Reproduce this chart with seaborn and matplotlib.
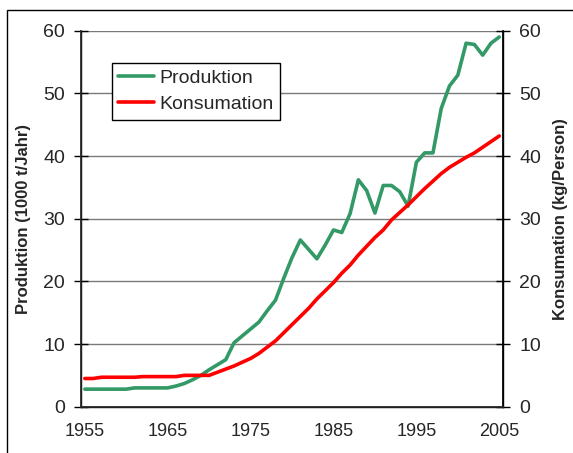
import numpy as np
import pandas as pd
import matplotlib
matplotlib.use("Agg")
import matplotlib.pyplot as plt
import seaborn as sns

# data
years = list(range(1955, 2006))
produktion = [2.8, 2.8, 2.8, 2.8, 2.8, 2.8, 3.0, 3.0, 3.0, 3.0,
              3.0, 3.3, 3.7, 4.3, 5.0, 5.9, 6.7, 7.5, 10.2, 11.3,
              12.4, 13.5, 15.3, 17.0, 20.5, 23.8, 26.6, 25.1, 23.6, 25.8,
              28.2, 27.8, 30.8, 36.2, 34.5, 30.9, 35.3, 35.3, 34.3, 32.0,
              39.0, 40.5, 40.5, 47.6, 51.2, 52.9, 58.0, 57.8, 56.1, 58.0,
              59.0]
konsumation = [4.5, 4.5, 4.7, 4.7, 4.7, 4.7, 4.7, 4.8, 4.8, 4.8,
               4.8, 4.8, 5.0, 5.0, 5.0, 5.0, 5.5, 6.0, 6.5, 7.1,
               7.7, 8.5, 9.5, 10.5, 11.8, 13.1, 14.4, 15.7, 17.2, 18.5,
               19.8, 21.3, 22.6, 24.2, 25.6, 27.0, 28.2, 29.8, 31.0, 32.2,
               33.5, 34.8, 36.0, 37.2, 38.2, 39.0, 39.8, 40.5, 41.4, 42.3,
               43.2]
year_labels = [1955, 1965, 1975, 1985, 1995, 2005]
y_ticks = [0, 10, 20, 30, 40, 50, 60]

df = pd.DataFrame({"Jahr": years, "Produktion": produktion, "Konsumation": konsumation})

sns.set_theme(style="white")
plt.rcParams["font.family"] = ["Liberation Sans", "DejaVu Sans"]

W, H = 573, 453
fig = plt.figure(figsize=(W / 100, H / 100), dpi=100)
ax = fig.add_axes([80.7 / W, 1 - 406.7 / H, 422.7 / W, 376 / H])

# outer frame (only left and top edges visible)
fig.patches.append(plt.Rectangle((7.3 / W, -0.1), 1.2, 1 - 10 / H + 0.1,
                                 transform=fig.transFigure, fill=False,
                                 edgecolor="black", linewidth=1.0))

for v in y_ticks[1:]:
    ax.axhline(v, color="#7a7a7a", linewidth=1.0, zorder=0)

sns.lineplot(data=df, x="Jahr", y="Produktion", ax=ax, color="#339966",
             linewidth=2.6, label="Produktion")
sns.lineplot(data=df, x="Jahr", y="Konsumation", ax=ax, color="#ff0000",
             linewidth=2.6, label="Konsumation")

ax.set_xlim(1954.5, 2005.5)
ax.set_ylim(0, 60)
ax.set_yticks(y_ticks)
ax.set_xticks(year_labels)
ax.set_xticks(np.arange(1954.5, 2006, 1.0), minor=True)
ax.tick_params(axis="x", which="major", length=0, pad=12, labelsize=13)
ax.tick_params(axis="x", which="minor", direction="inout", length=8.6, width=1, color="black")
ax.tick_params(axis="y", direction="inout", length=9.4, width=1, color="black",
               labelsize=14, left=True, pad=6.6)

for side in ["left", "right", "bottom"]:
    ax.spines[side].set_color("black")
    ax.spines[side].set_linewidth(1.0)
ax.spines["top"].set_visible(False)

ax.set_xlabel("")
ax.set_ylabel("Produktion (1000 t/Jahr)", fontsize=12, fontweight="bold", labelpad=9)

ax2 = ax.twinx()
ax2.set_ylim(0, 60)
ax2.set_yticks(y_ticks)
ax2.tick_params(axis="y", direction="inout", length=9.4, width=1, color="black",
                labelsize=14, right=True, pad=6.6)
ax2.spines["top"].set_visible(False)
ax2.spines["right"].set_color("black")
ax2.set_ylabel("Konsumation (kg/Person)", fontsize=12, fontweight="bold", labelpad=8.5)

leg = ax.legend(loc="upper left", bbox_to_anchor=(0.0729, 0.9154), fontsize=14,
                frameon=True, fancybox=False, edgecolor="black", framealpha=1,
                handlelength=1.85, handletextpad=0.26, borderpad=0.35, labelspacing=0.45,
                borderaxespad=0)
leg.get_frame().set_linewidth(1.0)

fig.savefig("out.png", dpi=100)
